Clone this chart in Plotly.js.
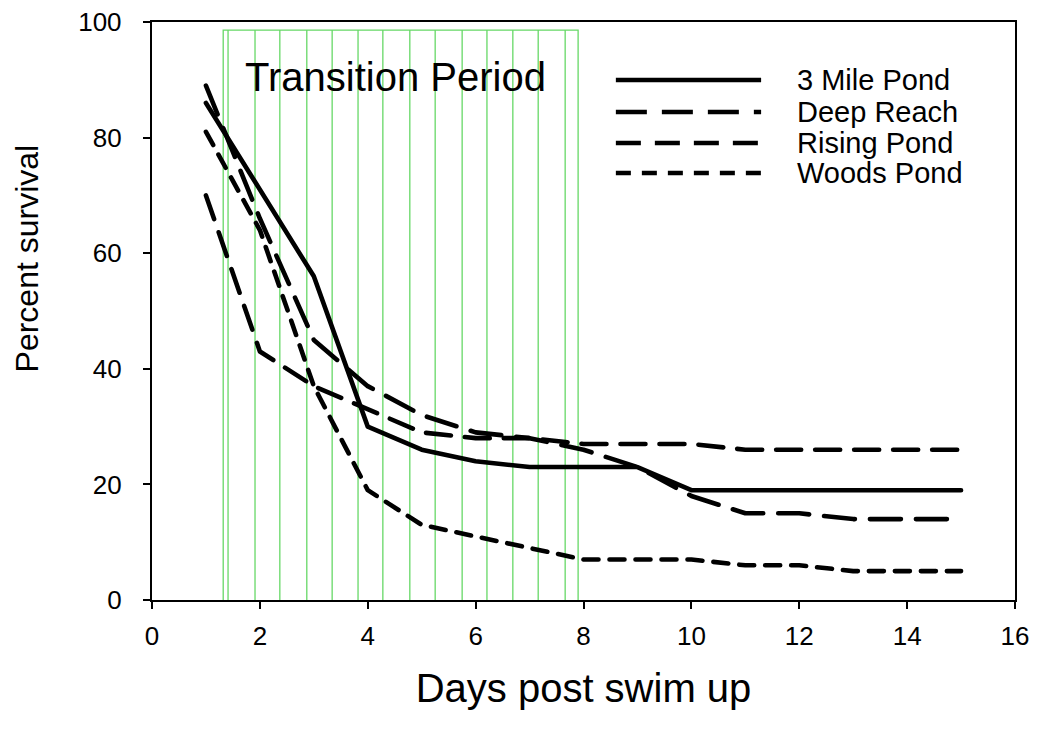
<!DOCTYPE html>
<html>
<head>
<meta charset="utf-8">
<script src="https://cdn.plot.ly/plotly-3.0.1.min.js"></script>
<style>
  html, body { margin: 0; padding: 0; background: #fff; }
  #chart { width: 1039px; height: 730px; }
  .scatterlayer path.js-line { stroke-linecap: round; stroke-linejoin: round; }
</style>
</head>
<body>
<div id="chart"></div>
<script>
// ---- data ----
const days = [1, 2, 3, 4, 5, 6, 7, 8, 9, 10, 11, 12, 13, 14, 15];
const seriesNames = ['3 Mile Pond', 'Deep Reach', 'Rising Pond', 'Woods Pond'];
const threeMilePond = [86, 71, 56, 30, 26, 24, 23, 23, 23, 19, 19, 19, 19, 19, 19];
const deepReach     = [89, 66, 45, 37, 32, 29, 28, 26, 23, 18, 15, 15, 14, 14, 14];
const risingPond    = [70, 43, 37, 33, 29, 28, 28, 27, 27, 27, 26, 26, 26, 26, 26];
const woodsPond     = [81, 64, 37, 19, 13, 11, 9, 7, 7, 7, 6, 6, 5, 5, 5];
const transitionLabel = 'Transition Period';
const transitionStart = 1.32;
const transitionEnd = 7.9;
const transitionTop = 98.6;
const hatchX = [1.41, 1.91, 2.37, 2.87, 3.34, 3.82, 4.28, 4.78, 5.25, 5.75, 6.21, 6.69, 7.16, 7.66];
const xTicks = [0, 2, 4, 6, 8, 10, 12, 14, 16];
const yTicks = [0, 20, 40, 60, 80, 100];
const xTitle = 'Days post swim up';
const yTitle = 'Percent survival';

// ---- styles ----
const FONT = 'Liberation Sans, Arial, Helvetica, sans-serif';
const seriesValues = [threeMilePond, deepReach, risingPond, woodsPond];
const dashes = ['solid', '31px,15px', '25px,14px', '15px,11px'];
const LW = 4.6;
const green = '#66d866';

const traces = seriesValues.map((vals, i) => ({
  type: 'scatter',
  mode: 'lines',
  name: seriesNames[i],
  x: days,
  y: vals,
  line: { color: '#000', width: LW, dash: dashes[i] },
  showlegend: false,
  hoverinfo: 'x+y+name'
}));

const shapes = [];
// transition period hatched box
shapes.push({
  type: 'rect', xref: 'x', yref: 'y', layer: 'below',
  x0: transitionStart, x1: transitionEnd, y0: -0.5, y1: transitionTop,
  line: { color: green, width: 1.3 }, fillcolor: 'rgba(0,0,0,0)'
});
hatchX.forEach(xv => shapes.push({
  type: 'line', xref: 'x', yref: 'y', layer: 'below',
  x0: xv, x1: xv, y0: -0.5, y1: transitionTop,
  line: { color: green, width: 1.3 }
}));

// custom legend (long line samples)
const legRowsY = [0.8997, 0.8443, 0.7907, 0.7388];
const annotations = [];
seriesNames.forEach((nm, i) => {
  shapes.push({
    type: 'line', xref: 'paper', yref: 'paper', layer: 'above',
    x0: 0.5375, x1: 0.7058, y0: legRowsY[i], y1: legRowsY[i],
    line: { color: '#000', width: LW, dash: dashes[i] }
  });
  annotations.push({
    xref: 'paper', yref: 'paper', x: 0.7445, y: legRowsY[i],
    xanchor: 'left', yanchor: 'middle', showarrow: false,
    text: nm, font: { family: FONT, size: 29, color: '#000' }
  });
});

annotations.push({
  xref: 'x', yref: 'y', x: 4.52, y: 90.5, xanchor: 'center', yanchor: 'middle',
  showarrow: false, text: transitionLabel,
  font: { family: FONT, size: 40, color: '#000' }
});
annotations.push({
  xref: 'paper', yref: 'paper', x: -0.1443, y: 0.5917, xanchor: 'center', yanchor: 'middle',
  showarrow: false, textangle: -90, text: yTitle,
  font: { family: FONT, size: 32, color: '#000' }
});

const layout = {
  width: 1039, height: 730,
  margin: { l: 152, r: 24, t: 22, b: 130 },
  paper_bgcolor: '#fff', plot_bgcolor: '#fff',
  font: { family: FONT, color: '#000' },
  showlegend: false,
  xaxis: {
    range: [0, 16], tickvals: xTicks, ticktext: xTicks.map(String),
    showgrid: false, zeroline: false,
    showline: true, linecolor: '#000', linewidth: 2.2, mirror: true,
    ticks: 'outside', ticklen: 7, tickwidth: 2, tickcolor: '#000',
    tickfont: { family: FONT, size: 26, color: '#000' },
    ticklabelstandoff: 5,
    title: { text: xTitle, font: { family: FONT, size: 40, color: '#000' }, standoff: 24 },
    automargin: false, fixedrange: true
  },
  yaxis: {
    range: [0, 100], tickvals: yTicks, ticktext: yTicks.map(String),
    showgrid: false, zeroline: false,
    showline: true, linecolor: '#000', linewidth: 2.2, mirror: true,
    ticks: 'outside', ticklen: 7, tickwidth: 2, tickcolor: '#000',
    tickfont: { family: FONT, size: 26, color: '#000' },
    ticklabelstandoff: 16,
    automargin: false, fixedrange: true
  },
  shapes: shapes,
  annotations: annotations
};

Plotly.newPlot('chart', traces, layout, { displayModeBar: false, staticPlot: true });
</script>
</body>
</html>
